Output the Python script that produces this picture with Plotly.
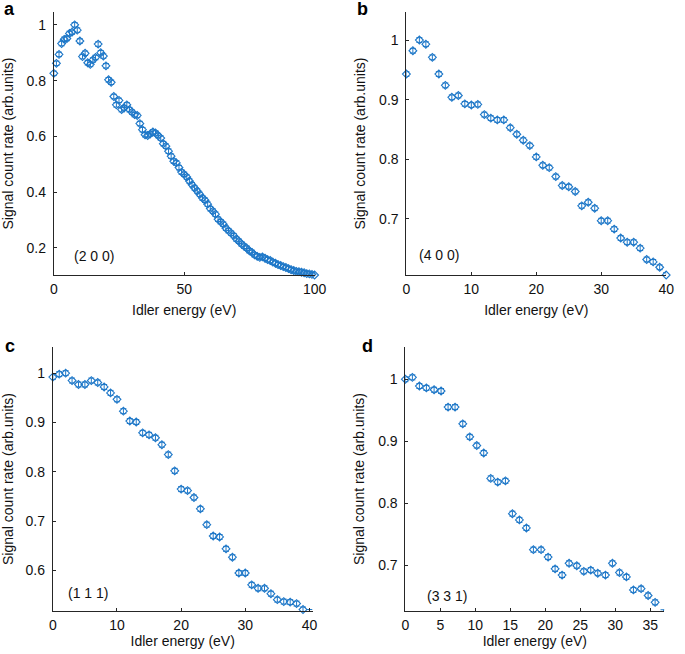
import plotly.graph_objects as go

# ---------------- data ----------------
energy_a = list(range(0, 101))
signal_a = [0.826, 0.862, 0.894, 0.933, 0.948, 0.951, 0.969, 0.974, 1.0, 0.981,
            0.942, 0.886, 0.898, 0.864, 0.858, 0.874, 0.883, 0.931, 0.900, 0.888,
            0.853, 0.803, 0.794, 0.743, 0.713, 0.729, 0.696, 0.702, 0.713, 0.696,
            0.687, 0.678, 0.675, 0.646, 0.624, 0.606, 0.603, 0.609, 0.616, 0.612,
            0.603, 0.594, 0.574, 0.565, 0.547, 0.529, 0.511, 0.505, 0.488, 0.472,
            0.464, 0.454, 0.440, 0.427, 0.415, 0.404, 0.392, 0.379, 0.371, 0.357,
            0.341, 0.332, 0.321, 0.303, 0.294, 0.285, 0.271, 0.262, 0.253, 0.244,
            0.232, 0.224, 0.214, 0.206, 0.199, 0.190, 0.184, 0.175, 0.170, 0.166,
            0.168, 0.163, 0.158, 0.155, 0.149, 0.145, 0.140, 0.137, 0.133, 0.130,
            0.126, 0.122, 0.119, 0.116, 0.115, 0.113, 0.111, 0.108, 0.107, 0.105,
            0.103]
err_a = 0.008

energy_b = list(range(0, 41))
signal_b = [0.943, 0.982, 1.000, 0.993, 0.971, 0.943, 0.924, 0.904, 0.907, 0.893,
            0.891, 0.892, 0.875, 0.869, 0.866, 0.866, 0.853, 0.842, 0.832, 0.823,
            0.804, 0.790, 0.786, 0.771, 0.756, 0.754, 0.746, 0.722, 0.728, 0.718,
            0.697, 0.697, 0.683, 0.668, 0.661, 0.661, 0.651, 0.632, 0.628, 0.619,
            0.606]
err_b = 0.004

energy_c = list(range(0, 41))
signal_c = [0.992, 0.998, 1.000, 0.985, 0.977, 0.977, 0.985, 0.981, 0.972, 0.960,
            0.947, 0.923, 0.903, 0.901, 0.879, 0.875, 0.869, 0.855, 0.835, 0.802,
            0.765, 0.762, 0.748, 0.725, 0.693, 0.670, 0.668, 0.644, 0.627, 0.595,
            0.595, 0.571, 0.564, 0.564, 0.553, 0.541, 0.537, 0.536, 0.533, 0.521,
            0.516]
err_c = 0.005

energy_d = [0, 1.0, 2.0, 3.0, 4.1, 5.1, 6.1, 7.1, 8.2, 9.2, 10.2, 11.2, 12.2,
            13.2, 14.3, 15.3, 16.3, 17.3, 18.3, 19.4, 20.4, 21.4, 22.4, 23.4,
            24.5, 25.5, 26.5, 27.5, 28.6, 29.6, 30.6, 31.6, 32.6, 33.7, 34.7,
            35.7, 36.9]
signal_d = [1.000, 1.003, 0.989, 0.986, 0.983, 0.981, 0.955, 0.955, 0.928, 0.907,
            0.893, 0.881, 0.840, 0.834, 0.836, 0.783, 0.773, 0.760, 0.725, 0.725,
            0.713, 0.694, 0.684, 0.703, 0.699, 0.690, 0.692, 0.687, 0.684, 0.703,
            0.688, 0.681, 0.660, 0.662, 0.651, 0.640, 0.624]
err_d = 0.004

panel_letters = ["a", "b", "c", "d"]
planes = ["(2 0 0)", "(4 0 0)", "(1 1 1)", "(3 3 1)"]
plane_pos = [(15.5, 0.172), (5.0, 0.639), (5.5, 0.554), (6.0, 0.651)]

xticks = [[0, 50, 100], [0, 10, 20, 30, 40], [0, 10, 20, 30, 40],
          [0, 5, 10, 15, 20, 25, 30, 35]]
yticks = [[0.2, 0.4, 0.6, 0.8, 1], [0.7, 0.8, 0.9, 1], [0.6, 0.7, 0.8, 0.9, 1],
          [0.7, 0.8, 0.9, 1]]
xranges = [[0, 100], [0, 40], [0, 40.5], [0, 37]]
yranges = [[0.103, 1.046], [0.606, 1.047], [0.518, 1.053], [0.626, 1.052]]

x_title = "Idler energy (eV)"
y_title = "Signal count rate (arb.units)"

# ---------------- figure ----------------
W, H = 685, 654
BLUE = "#1f78c8"
AX = "#262626"
FONT = "Liberation Sans, Arial, Helvetica, sans-serif"

fig = go.Figure()

datasets = [(energy_a, signal_a, err_a), (energy_b, signal_b, err_b),
            (energy_c, signal_c, err_c), (energy_d, signal_d, err_d)]

# pixel boxes (left, right, top, bottom)
boxes = [(51, 318, 12, 275), (412, 678, 12, 275),
         (50, 316, 347, 611), (411, 676, 347, 611)]
x_title_gap = [9, 9, 3, 3]

for i, (xs, ys, e) in enumerate(datasets):
    sfx = "" if i == 0 else str(i + 1)
    fig.add_trace(go.Scatter(
        x=xs, y=ys, mode="markers",
        xaxis="x" + sfx, yaxis="y" + sfx,
        marker=dict(symbol="diamond-open", size=6, color=BLUE,
                    line=dict(width=1.1, color=BLUE)),
        error_y=dict(type="constant", value=e, thickness=1, width=3, color=BLUE),
        cliponaxis=False, showlegend=False, hoverinfo="skip",
    ))

annotations = []
for i in range(4):
    sfx = "" if i == 0 else str(i + 1)
    l, r, t, b = boxes[i]
    axcommon = dict(showgrid=False, zeroline=False, showline=True,
                    linecolor=AX, linewidth=1, ticks="inside", ticklen=3,
                    tickcolor=AX, tickfont=dict(size=14, color="#111"),
                    mirror=False, fixedrange=True)
    fig.layout["xaxis" + sfx] = dict(
        axcommon, domain=[l / W, r / W], anchor="y" + sfx,
        range=xranges[i], tickvals=xticks[i], ticklabelstandoff=1,
        title=dict(text=x_title, font=dict(size=14, color="#111"),
                   standoff=x_title_gap[i]),
    )
    fig.layout["yaxis" + sfx] = dict(
        axcommon, domain=[1 - b / H, 1 - t / H], anchor="x" + sfx,
        range=yranges[i], tickvals=yticks[i], ticklabelstandoff=4,
        title=dict(text=y_title, font=dict(size=14, color="#111"), standoff=10),
    )
    annotations.append(dict(
        text=planes[i], x=plane_pos[i][0], y=plane_pos[i][1],
        xref="x" + sfx, yref="y" + sfx, showarrow=False,
        font=dict(size=14, color="#111"), xanchor="center", yanchor="middle"))
    lx = [6, 367, 6, 372][i]
    ly = [9, 9, 346, 346][i]
    annotations.append(dict(
        text="<b>" + panel_letters[i] + "</b>", x=lx / W, y=1 - ly / H,
        xref="paper", yref="paper", showarrow=False,
        font=dict(size=18, color="#000"), xanchor="center", yanchor="middle"))

fig.update_layout(
    width=W, height=H,
    margin=dict(l=0, r=0, t=0, b=0),
    paper_bgcolor="white", plot_bgcolor="white",
    font=dict(family=FONT, size=14, color="#111"),
    annotations=annotations,
    hovermode=False,
)

fig.write_html("out.html",
               config={"displayModeBar": False, "staticPlot": True},
               post_script="document.body.style.margin='0';"
                           "document.body.style.overflow='hidden';")
